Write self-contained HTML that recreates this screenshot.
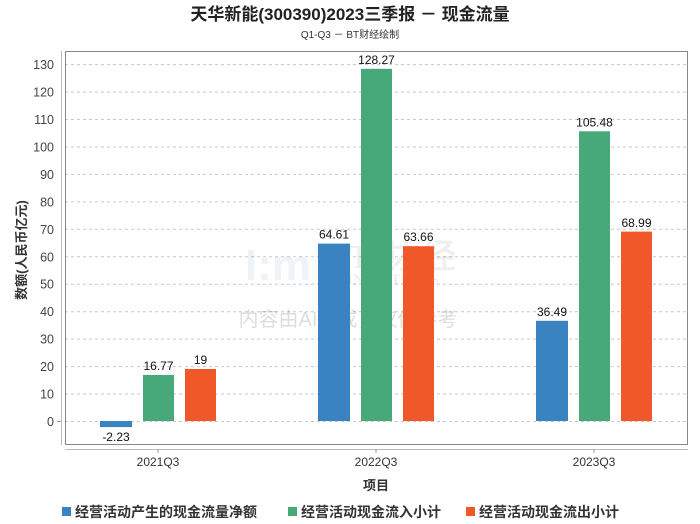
<!DOCTYPE html>
<html><head><meta charset="utf-8"><style>
html,body{margin:0;padding:0;background:#fff;}
svg{display:block;font-family:"Liberation Sans","Noto Sans CJK SC",sans-serif;}
</style></head><body>
<svg width="700" height="524" viewBox="0 0 700 524" xmlns="http://www.w3.org/2000/svg">
<rect width="700" height="524" fill="#fff"/>
<text x="350" y="20" text-anchor="middle" font-size="17" font-weight="bold" fill="#222">天华新能(300390)2023三季报 － 现金流量</text>
<text x="350" y="38" text-anchor="middle" font-size="10" fill="#333">Q1-Q3 － BT财经绘制</text>
<g stroke="#c8c8c8" stroke-dasharray="3,3" stroke-width="1">
<line x1="65" x2="688" y1="421.5" y2="421.5"/><line x1="65" x2="688" y1="394" y2="394"/><line x1="65" x2="688" y1="366.6" y2="366.6"/><line x1="65" x2="688" y1="339.1" y2="339.1"/><line x1="65" x2="688" y1="311.7" y2="311.7"/><line x1="65" x2="688" y1="284.2" y2="284.2"/><line x1="65" x2="688" y1="256.8" y2="256.8"/><line x1="65" x2="688" y1="229.3" y2="229.3"/><line x1="65" x2="688" y1="201.9" y2="201.9"/><line x1="65" x2="688" y1="174.4" y2="174.4"/><line x1="65" x2="688" y1="147" y2="147"/><line x1="65" x2="688" y1="119.5" y2="119.5"/><line x1="65" x2="688" y1="92.1" y2="92.1"/><line x1="65" x2="688" y1="64.6" y2="64.6"/>
</g>
<g font-weight="bold" opacity="0.08" fill="#444">
<text x="245" y="280" font-size="44" fill="#3a6fb0">I:m</text>
<text x="318" y="268" font-family="Liberation Serif" font-size="34">B T 财 经</text>
<text x="318" y="284" font-family="Liberation Serif" font-size="15">BUSINESSTIMES</text>
</g>
<text x="348" y="326" text-anchor="middle" font-size="20" fill="#000" opacity="0.13">内容由AI生成，仅供参考</text>
<rect x="65.5" y="51.5" width="622" height="393" fill="none" stroke="#888"/>
<line x1="61.5" x2="61.5" y1="51" y2="445" stroke="#bbb"/>
<line x1="65" x2="688" y1="449.5" y2="449.5" stroke="#bbb"/>
<g stroke="#999"><line x1="57" x2="61" y1="421.5" y2="421.5"/><line x1="158" x2="158" y1="449" y2="453"/><line x1="376" x2="376" y1="449" y2="453"/><line x1="594" x2="594" y1="449" y2="453"/></g>
<g font-size="12.5" fill="#444" text-anchor="end">
<text x="54" y="426">0</text><text x="54" y="398.5">10</text><text x="54" y="371">20</text><text x="54" y="343.6">30</text><text x="54" y="316.2">40</text><text x="54" y="288.7">50</text><text x="54" y="261.3">60</text><text x="54" y="233.8">70</text><text x="54" y="206.4">80</text><text x="54" y="178.9">90</text><text x="54" y="151.5">100</text><text x="54" y="124">110</text><text x="54" y="96.6">120</text><text x="54" y="69.1">130</text>
</g>
<text transform="translate(26,250) rotate(-90)" text-anchor="middle" font-size="13" font-weight="bold" fill="#333">数额(人民币亿元)</text>
<rect x="100" y="421" width="32" height="6.1" fill="#3a83c1"/>
<rect x="143" y="375" width="31" height="46" fill="#47a97a"/>
<rect x="185" y="369" width="31" height="52" fill="#f0582a"/>
<rect x="318" y="243.6" width="32" height="177.4" fill="#3a83c1"/>
<rect x="361" y="68.8" width="31" height="352.2" fill="#47a97a"/>
<rect x="403" y="246.2" width="31" height="174.8" fill="#f0582a"/>
<rect x="536" y="320.8" width="32" height="100.2" fill="#3a83c1"/>
<rect x="579" y="131.3" width="31" height="289.7" fill="#47a97a"/>
<rect x="621" y="231.6" width="31" height="189.4" fill="#f0582a"/>
<g font-size="12" fill="#111" text-anchor="middle">
<text x="116" y="441">-2.23</text><text x="158.5" y="370">16.77</text><text x="200.5" y="364">19</text>
<text x="334" y="238.5">64.61</text><text x="376.5" y="64">128.27</text><text x="418.5" y="241">63.66</text>
<text x="552" y="316">36.49</text><text x="594.5" y="126.5">105.48</text><text x="636.5" y="227">68.99</text>
</g>
<g font-size="12" fill="#333" text-anchor="middle">
<text x="158" y="466">2021Q3</text><text x="376" y="466">2022Q3</text><text x="594" y="466">2023Q3</text>
</g>
<text x="376" y="490" text-anchor="middle" font-size="13" font-weight="bold" fill="#333">项目</text>
<g font-size="14" font-weight="bold" fill="#333">
<rect x="62" y="507" width="9" height="9" fill="#3a83c1"/><text x="75" y="517">经营活动产生的现金流量净额</text>
<rect x="288" y="507" width="9" height="9" fill="#47a97a"/><text x="301" y="517">经营活动现金流入小计</text>
<rect x="466" y="507" width="9" height="9" fill="#f0582a"/><text x="479" y="517">经营活动现金流出小计</text>
</g>
</svg>
</body></html>
